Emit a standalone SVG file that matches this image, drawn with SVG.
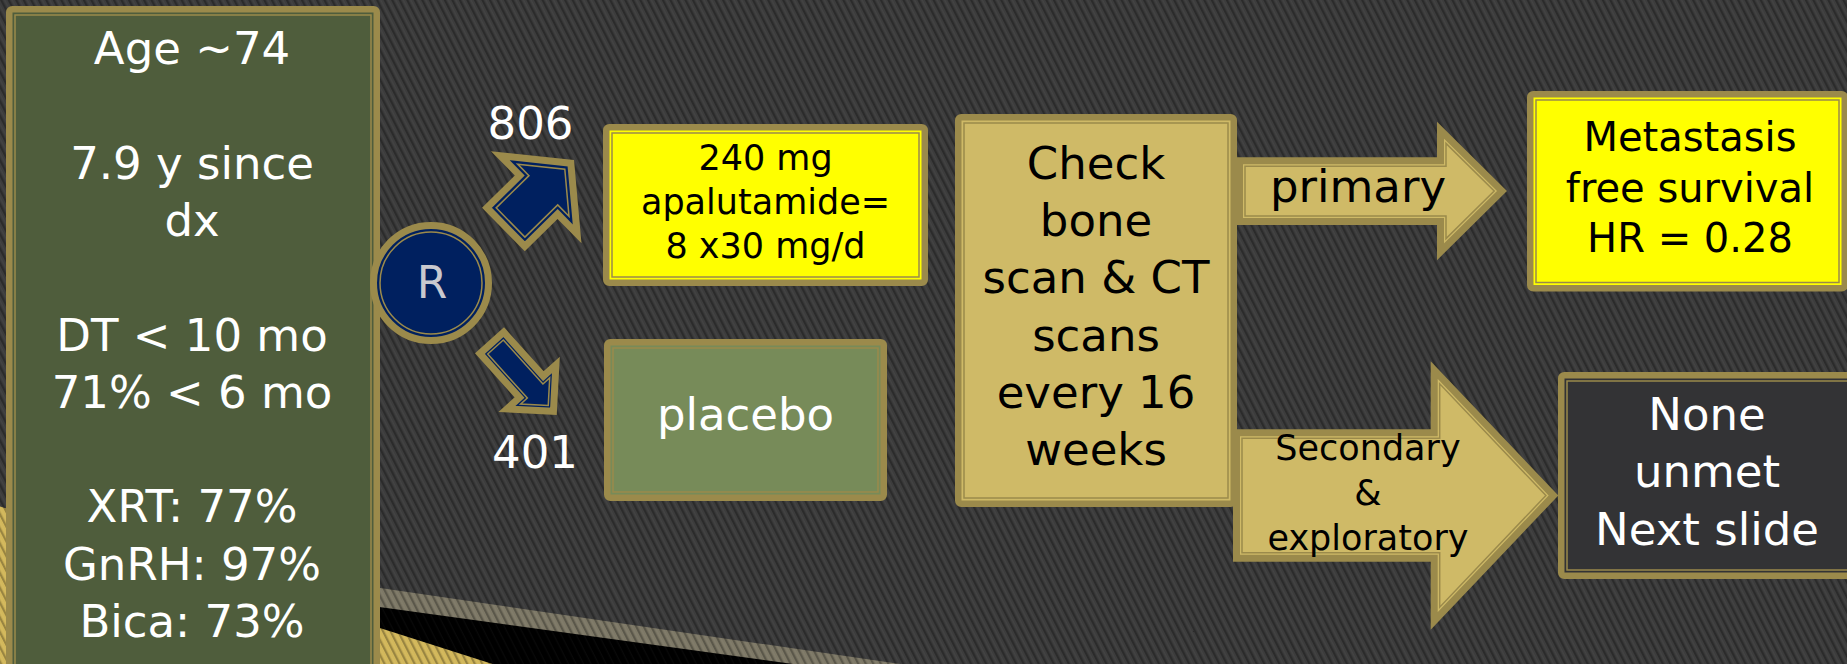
<svg xmlns="http://www.w3.org/2000/svg" width="1847" height="664" viewBox="0 0 1847 664">
<style>
.t{font-family:"DejaVu Sans",Verdana,sans-serif;text-anchor:middle}
.w{fill:#ffffff}
.k{fill:#000000}
.s45{font-size:45px}
.s40{font-size:40px}
.s35{font-size:35px}
.frame{stroke:#9b8a4b;stroke-width:6.5}
.thin{fill:none;stroke:#9b8a4b;stroke-width:1.5}
.arr{stroke:#9b8a4b;stroke-width:7;stroke-linejoin:miter;stroke-miterlimit:10}
</style>
<defs>
<pattern id="stripes" patternUnits="userSpaceOnUse" width="6.7" height="20" patternTransform="rotate(-27)">
<rect x="0" y="0" width="2.2" height="20" fill="#000" fill-opacity="0.28"/>
<rect x="3.6" y="0" width="1" height="20" fill="#fff" fill-opacity="0.04"/>
</pattern>
</defs>
<g id="background">
<rect x="0" y="0" width="1847" height="664" fill="#3c3c3c"/>
<polygon points="0,532.5 900,664 0,664" fill="#7d7866"/>
<polygon points="0,554.6 793,664 0,664" fill="#000"/>
<polygon points="0,506.4 492.5,664 0,664" fill="#d2b75a"/>
<rect x="0" y="0" width="1847" height="664" fill="url(#stripes)"/>
</g>
<g id="connectors">
<g id="arrow-806" transform="translate(503.4,229.5) rotate(-44.5)">
<polygon class="arr" fill="#00205f" points="3.5,-27 49.5,-27 49.5,-54.8 94.5,0 49.5,54.8 49.5,27 3.5,27"/>
<polygon class="thin" points="10,-20.5 56,-20.5 56,-36.6 86.1,0 56,36.6 56,20.5 10,20.5"/>
</g>
<g id="arrow-401" transform="translate(489.5,340.3) rotate(48)">
<polygon class="arr" fill="#00205f" points="3.5,-16 62.7,-16 62.7,-32.85 95.55,0 62.7,32.85 62.7,16 3.5,16"/>
<polygon class="thin" points="9,-10.5 68.2,-10.5 68.2,-19.6 87.8,0 68.2,19.6 68.2,10.5 9,10.5"/>
</g>
<g id="arrow-primary">
<polygon class="arr" fill="#cfba67" points="1239.5,160.8 1440.5,160.8 1440.5,130.2 1502,191 1440.5,251.8 1440.5,221.5 1239.5,221.5"/>
<polygon class="thin" points="1245,166.3 1446,166.3 1446,143.4 1494.2,191 1446,238.6 1446,216 1245,216"/>
<text class="t k s45" x="1358" y="201.7">primary</text>
</g>
<g id="arrow-secondary">
<polygon class="arr" fill="#cfba67" points="1236.5,432.8 1434.2,432.8 1434.2,370 1553.5,495.5 1434.2,621 1434.2,558.2 1236.5,558.2"/>
<polygon class="thin" points="1242,438.3 1439.7,438.3 1439.7,383.8 1545.9,495.5 1439.7,607.2 1439.7,552.7 1242,552.7"/>
<text class="t k s35" x="1368" y="460">Secondary</text>
<text class="t k s35" x="1368" y="505">&amp;</text>
<text class="t k s35" x="1368" y="550">exploratory</text>
</g>
</g>
<g id="node-population">
<rect class="frame" x="9.25" y="9.25" width="367.5" height="680" rx="3" fill="#4f5d3c"/>
<rect class="thin" x="15" y="15" width="356" height="680"/>
<text class="t w s45" x="192" y="64">Age ~74</text>
<text class="t w s45" x="192" y="178.6">7.9 y since</text>
<text class="t w s45" x="192" y="235.9">dx</text>
<text class="t w s45" x="192" y="350.5">DT &lt; 10 mo</text>
<text class="t w s45" x="192" y="407.8">71% &lt; 6 mo</text>
<text class="t w s45" x="192" y="522.4">XRT: 77%</text>
<text class="t w s45" x="192" y="579.7">GnRH: 97%</text>
<text class="t w s45" x="192" y="637">Bica: 73%</text>
</g>
<g id="node-R">
<circle cx="431" cy="283" r="57.5" fill="#00205f" stroke="#9b8a4b" stroke-width="7"/>
<circle class="thin" cx="431" cy="283" r="51"/>
<text class="t" x="432" y="298" font-size="44" fill="#c9c9cf">R</text>
</g>
<g id="node-806">
<text class="t w s45" x="530.5" y="139">806</text>
</g>
<g id="node-401">
<text class="t w s45" x="535" y="468">401</text>
</g>
<g id="node-apalutamide">
<rect class="frame" x="606.25" y="127.25" width="318.5" height="155.5" rx="3" fill="#ffff00"/>
<rect class="thin" x="612" y="133" width="307" height="144"/>
<text class="t k s35" x="765.5" y="170">240 mg</text>
<text class="t k s35" x="765.5" y="213.5">apalutamide=</text>
<text class="t k s35" x="765.5" y="258">8 x30 mg/d</text>
</g>
<g id="node-placebo">
<rect class="frame" x="607.25" y="342.25" width="276.5" height="155.5" rx="3" fill="#778b59"/>
<rect class="thin" x="613" y="348" width="265" height="144"/>
<text class="t w s45" x="745.5" y="430">placebo</text>
</g>
<g id="node-check">
<rect class="frame" x="958.25" y="117.25" width="275.5" height="386.5" rx="3" fill="#cfba67"/>
<rect class="thin" x="964" y="123" width="264" height="375"/>
<text class="t k s45" x="1096" y="178.6">Check</text>
<text class="t k s45" x="1096" y="236">bone</text>
<text class="t k s45" x="1096" y="293.3">scan &amp; CT</text>
<text class="t k s45" x="1096" y="350.6">scans</text>
<text class="t k s45" x="1096" y="407.9">every 16</text>
<text class="t k s45" x="1096" y="465.2">weeks</text>
</g>
<g id="node-mfs">
<rect class="frame" x="1530.25" y="94.25" width="314.5" height="194" rx="3" fill="#ffff00"/>
<rect class="thin" x="1536" y="100" width="303" height="182.5"/>
<text class="t k s40" x="1690" y="150.8">Metastasis</text>
<text class="t k s40" x="1690" y="201.6">free survival</text>
<text class="t k s40" x="1690" y="252.4">HR = 0.28</text>
</g>
<g id="node-none">
<rect class="frame" x="1561.25" y="375.25" width="300" height="200.5" rx="3" fill="#333335"/>
<rect class="thin" x="1567" y="381" width="300" height="189"/>
<text class="t w s45" x="1707" y="430">None</text>
<text class="t w s45" x="1707" y="487.3">unmet</text>
<text class="t w s45" x="1707" y="544.6">Next slide</text>
</g>
</svg>
